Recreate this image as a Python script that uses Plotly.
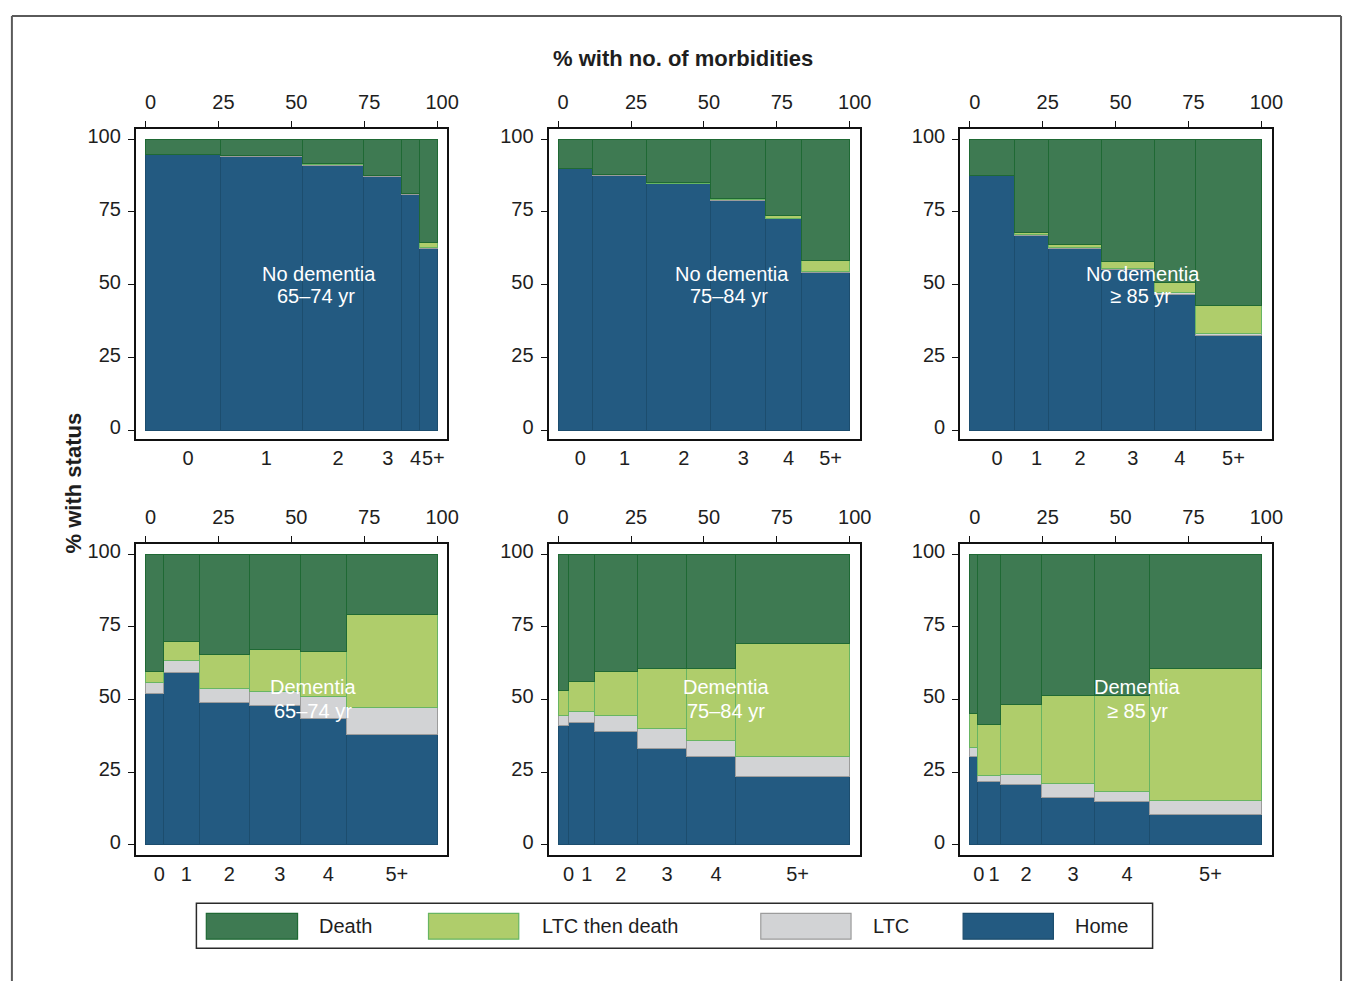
import plotly.graph_objects as go

W, H = 1357, 981

# ---------------- data ----------------
categories = ["0", "1", "2", "3", "4", "5+"]
statuses = ["Home", "LTC", "LTC then death", "Death"]
label_line1 = ["No dementia", "No dementia", "No dementia", "Dementia", "Dementia", "Dementia"]
label_line2 = ["65–74 yr", "75–84 yr", "≥ 85 yr", "65–74 yr", "75–84 yr", "≥ 85 yr"]
top_ticks = [0, 25, 50, 75, 100]
left_ticks = [0, 25, 50, 75, 100]

# % with each number of morbidities (bar widths)
widths_nd_6574 = [25.7, 28.0, 21.2, 12.9, 6.2, 6.0]
widths_nd_7584 = [11.7, 18.7, 21.9, 18.9, 12.2, 16.6]
widths_nd_85 = [15.2, 11.9, 18.0, 18.1, 14.2, 22.6]
widths_d_6574 = [6.1, 12.4, 17.0, 17.6, 15.8, 31.1]
widths_d_7584 = [3.7, 8.8, 14.6, 17.0, 16.7, 39.2]
widths_d_85 = [2.7, 7.8, 14.1, 18.2, 18.8, 38.4]

# % with status (stacked, bottom to top)
home_nd_6574 = [94.6, 94.2, 91.1, 87.0, 81.0, 62.3]
ltc_nd_6574 = [0.0, 0.1, 0.3, 0.4, 0.4, 0.6]
ltcd_nd_6574 = [0.0, 0.0, 0.1, 0.1, 0.1, 1.6]
death_nd_6574 = [5.4, 5.7, 8.5, 12.5, 18.5, 35.5]

home_nd_7584 = [90.0, 87.5, 84.6, 79.0, 72.6, 54.2]
ltc_nd_7584 = [0.0, 0.3, 0.2, 0.3, 0.3, 0.3]
ltcd_nd_7584 = [0.0, 0.1, 0.3, 0.3, 0.8, 3.9]
death_nd_7584 = [10.0, 12.1, 14.9, 20.4, 26.3, 41.6]

home_nd_85 = [87.5, 67.0, 62.3, 55.2, 46.5, 32.5]
ltc_nd_85 = [0.0, 0.4, 0.5, 0.5, 0.8, 0.8]
ltcd_nd_85 = [0.0, 0.7, 1.0, 2.3, 3.6, 9.6]
death_nd_85 = [12.5, 31.9, 36.2, 42.0, 49.1, 57.1]

home_d_6574 = [52.2, 59.3, 49.0, 48.0, 43.3, 37.8]
ltc_d_6574 = [3.7, 4.0, 4.6, 4.7, 7.6, 9.4]
ltcd_d_6574 = [3.8, 6.5, 12.0, 14.4, 15.6, 32.2]
death_d_6574 = [40.3, 30.2, 34.4, 32.9, 33.5, 20.6]

home_d_7584 = [41.0, 41.9, 38.9, 33.0, 30.3, 23.3]
ltc_d_7584 = [3.6, 3.8, 5.7, 6.9, 5.7, 6.9]
ltcd_d_7584 = [8.4, 10.6, 14.9, 20.8, 24.7, 39.1]
death_d_7584 = [47.0, 43.7, 40.5, 39.3, 39.3, 30.7]

home_d_85 = [30.3, 21.7, 20.7, 16.3, 14.7, 10.4]
ltc_d_85 = [3.2, 2.2, 3.6, 4.7, 3.6, 4.7]
ltcd_d_85 = [11.6, 17.5, 23.8, 30.4, 32.9, 45.6]
death_d_85 = [54.9, 58.6, 51.9, 48.6, 48.8, 39.3]

panels = [
    (widths_nd_6574, [home_nd_6574, ltc_nd_6574, ltcd_nd_6574, death_nd_6574]),
    (widths_nd_7584, [home_nd_7584, ltc_nd_7584, ltcd_nd_7584, death_nd_7584]),
    (widths_nd_85, [home_nd_85, ltc_nd_85, ltcd_nd_85, death_nd_85]),
    (widths_d_6574, [home_d_6574, ltc_d_6574, ltcd_d_6574, death_d_6574]),
    (widths_d_7584, [home_d_7584, ltc_d_7584, ltcd_d_7584, death_d_7584]),
    (widths_d_85, [home_d_85, ltc_d_85, ltcd_d_85, death_d_85]),
]

# ---------------- style ----------------
fill = {"Home": "#235a81", "LTC": "#d2d3d5", "LTC then death": "#afcd6b", "Death": "#3e7a52"}
edge = {"Home": "#1c4d6e", "LTC": "#9c9c9c", "LTC then death": "#68b562", "Death": "#1f6934"}
FONT = "Liberation Sans, Arial, Helvetica, sans-serif"
TXT = "#1e1e1e"

col_px = [(137, 451), (553, 867), (968, 1282)]
row_px = [(126, 437), (542, 854)]
row_yrange = [[-3.0, 103.3], [-3.4, 103.6]]
xrange_ = [-3.3, 103.5]

fig = go.Figure()
layout = {}

for i, (widths, stacks) in enumerate(panels):
    n = i + 1
    r, c = divmod(i, 3)
    x0, x1 = col_px[c]
    y0, y1 = row_px[r]
    xd = [x0 / W, x1 / W]
    yd = [1 - y1 / H, 1 - y0 / H]
    centers = []
    acc = 0.0
    for w in widths:
        centers.append(acc + w / 2)
        acc += w
    xa = f"x{n}" if n > 1 else "x"
    ya = f"y{n}" if n > 1 else "y"
    for s, vals in zip(statuses, stacks):
        fig.add_trace(go.Bar(
            x=centers, y=vals, width=widths, name=s,
            marker=dict(color=fill[s], line=dict(color=edge[s], width=1)),
            xaxis=xa, yaxis=ya, showlegend=False, hoverinfo="skip"))
    # category axis (bottom) via overlay axis
    m = n + 6
    fig.add_trace(go.Scatter(
        x=centers, y=[50] * len(centers), mode="markers",
        marker=dict(opacity=0), xaxis=f"x{m}", yaxis=ya,
        showlegend=False, hoverinfo="skip"))

    axis_font = dict(family=FONT, size=20, color=TXT)
    layout[f"xaxis{n if n > 1 else ''}"] = dict(
        domain=xd, anchor=ya, side="top", range=xrange_,
        tickvals=top_ticks, ticks="outside", ticklen=6, tickwidth=1.2,
        tickcolor="#111", showline=True, mirror=True, linecolor="#111",
        linewidth=2, showgrid=False, zeroline=False, tickfont=axis_font,
        ticklabelshift=5, ticklabelstandoff=4, tickangle=0, fixedrange=True)
    layout[f"yaxis{n if n > 1 else ''}"] = dict(
        domain=yd, anchor=xa, range=row_yrange[r],
        tickvals=left_ticks, ticks="outside", ticklen=6, tickwidth=1.2,
        tickcolor="#111", showline=True, mirror=True, linecolor="#111",
        linewidth=2, showgrid=False, zeroline=False, tickfont=axis_font,
        ticklabelshift=-3, ticklabelstandoff=3, fixedrange=True)
    layout[f"xaxis{m}"] = dict(
        overlaying=xa, anchor=ya, side="bottom", range=xrange_,
        tickvals=centers, ticktext=categories, ticks="",
        showline=False, showgrid=False,
        zeroline=False, tickfont=axis_font, ticklabelshift=5,
        ticklabelstandoff=5, tickangle=0, fixedrange=True)

fig.update_layout(**layout)

annotations = []
for i in range(6):
    n = i + 1
    r = i // 3
    xa = f"x{n}" if n > 1 else "x"
    ya = f"y{n}" if n > 1 else "y"
    xl1, xl2 = (59.5, 58.5) if r == 0 else (57.5, 57.5)
    dy = 11 if r == 0 else 12
    annotations.append(dict(x=xl1, y=50, xref=xa, yref=ya, text=label_line1[i],
                            showarrow=False, yshift=dy, xanchor="center", yanchor="middle",
                            font=dict(family=FONT, size=20, color="white")))
    annotations.append(dict(x=xl2, y=50, xref=xa, yref=ya, text=label_line2[i],
                            showarrow=False, yshift=-dy, xanchor="center", yanchor="middle",
                            font=dict(family=FONT, size=20, color="white")))

annotations.append(dict(x=689 / W, y=1 - 55 / H, xref="paper", yref="paper",
                        text="<b>% with no. of morbidities</b>", showarrow=False,
                        xanchor="center", yanchor="middle",
                        font=dict(family=FONT, size=22, color=TXT)))
annotations.append(dict(x=74 / W, y=1 - 481 / H, xref="paper", yref="paper",
                        text="<b>% with status</b>", showarrow=False, textangle=-90,
                        xanchor="center", yanchor="middle",
                        font=dict(family=FONT, size=22, color=TXT)))

shapes = []
# outer frame (left, top, right edges; bottom runs off the page)
fl, ft, fr = 12 / W, 1 - 12 / H, 1352 / W
for (ax0, ay0, ax1, ay1) in [(fl, 0, fl, ft), (fl, ft, fr, ft), (fr, ft, fr, 0)]:
    shapes.append(dict(type="line", xref="paper", yref="paper",
                       x0=ax0, y0=ay0, x1=ax1, y1=ay1,
                       line=dict(color="#5a5a5a", width=2)))
# legend box
shapes.append(dict(type="rect", xref="paper", yref="paper",
                   x0=198 / W, x1=1162 / W, y0=1 - 948 / H, y1=1 - 903 / H,
                   line=dict(color="#2a2a2a", width=1.5)))
legend_order = ["Death", "LTC then death", "LTC", "Home"]
swatch_x = [(208, 300), (432, 523), (767, 858), (971, 1062)]
text_x = [320, 544, 878, 1082]
for s, (sx0, sx1), tx in zip(legend_order, swatch_x, text_x):
    shapes.append(dict(type="rect", xref="paper", yref="paper",
                       x0=sx0 / W, x1=sx1 / W, y0=1 - 939 / H, y1=1 - 913 / H,
                       fillcolor=fill[s], line=dict(color=edge[s], width=1.2)))
    annotations.append(dict(x=tx / W, y=1 - 926 / H, xref="paper", yref="paper",
                            text=s, showarrow=False, xanchor="left", yanchor="middle",
                            font=dict(family=FONT, size=20, color=TXT)))

fig.update_layout(
    width=W, height=H, margin=dict(l=0, r=0, t=0, b=0),
    paper_bgcolor="white", plot_bgcolor="white",
    barmode="stack", showlegend=False,
    annotations=annotations, shapes=shapes,
    font=dict(family=FONT, color=TXT),
)

fig.write_html(
    "out.html",
    config={"displayModeBar": False, "responsive": False},
    post_script="document.body.style.margin='0';document.body.style.padding='0';"
                "document.body.style.overflow='hidden';"
                "document.documentElement.style.overflow='hidden';",
)
